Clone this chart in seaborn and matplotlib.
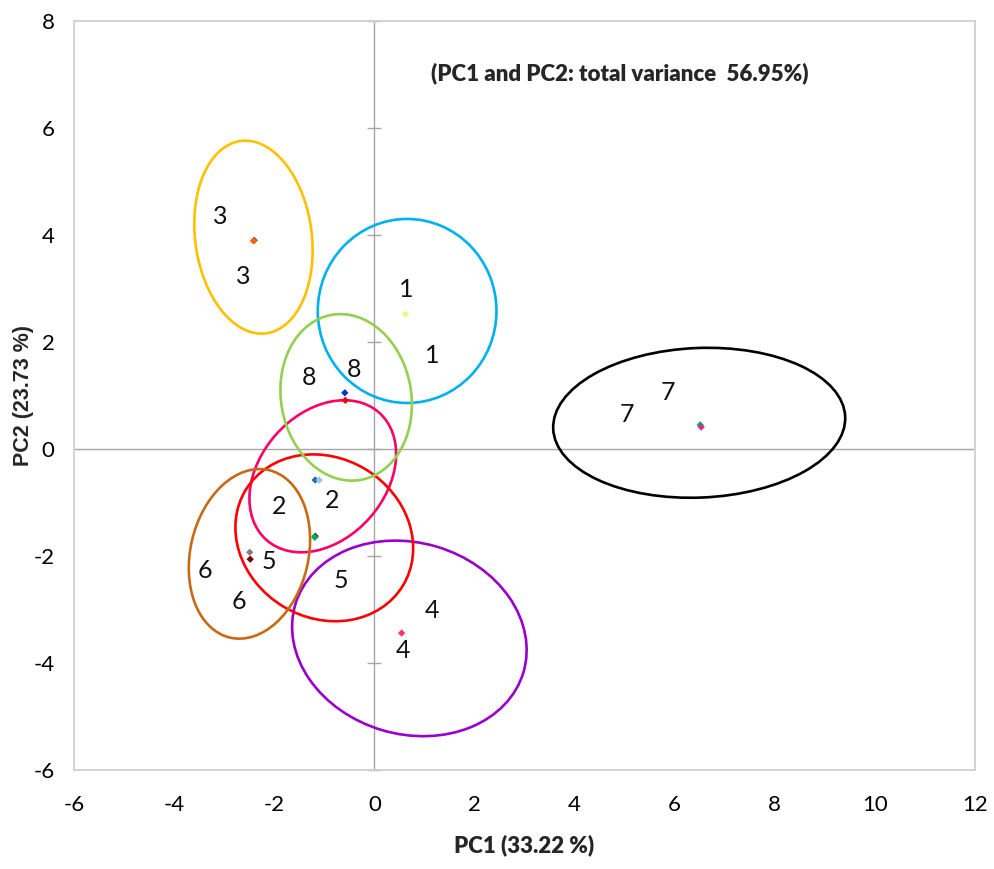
import numpy as np
import pandas as pd
import matplotlib
matplotlib.use("Agg")
import matplotlib.pyplot as plt
from matplotlib.patches import Ellipse
from matplotlib.transforms import Affine2D
import seaborn as sns

# ---- confidence ellipses of the eight groups (PC scores) ----
groups = ["1", "2", "3", "4", "5", "6", "7", "8"]
ellipse_colors = ["#00B0F0", "#FF0066", "#FFC000", "#9900CC",
                  "#FF0000", "#C86A14", "#000000", "#92D050"]
ell_cx = [0.655, -1.03, -2.415, 0.70, -1.00, -2.495, 6.49, -0.563]
ell_cy = [2.58, -0.51, 3.96, -3.54, -1.66, -1.96, 0.49, 0.965]
ell_major = [1.72, 1.589, 1.813, 2.224, 1.720, 1.607, 2.731, 1.566]
ell_minor = [1.67, 1.172, 1.090, 1.789, 1.495, 1.103, 1.398, 1.217]
ell_angle = [90, 48.5, 97.5, -16.5, -31.5, 77, 2.4, 100]

# ---- replicate sample labels ----
label_text = ["1", "1", "2", "2", "3", "3", "4", "4",
              "5", "5", "6", "6", "7", "7", "8", "8"]
label_x = [0.63, 1.15, -1.90, -0.85, -3.08, -2.61, 1.16, 0.57,
           -2.11, -0.66, -3.39, -2.71, 5.04, 5.87, -1.31, -0.41]
label_y = [2.99, 1.74, -1.07, -0.96, 4.34, 3.23, -3.02, -3.76,
           -2.10, -2.46, -2.27, -2.85, 0.64, 1.05, 1.33, 1.48]

# ---- group centroids ----
cent_id = ["1a", "2a", "2b", "3a", "3b", "4a", "5a", "5b",
           "6a", "6b", "7a", "7b", "8a", "8b"]
cent_x = [0.62, -1.18, -1.10, -2.40, -2.415, 0.545, -1.18, -1.19,
          -2.49, -2.48, 6.51, 6.53, -0.59, -0.58]
cent_y = [2.52, -0.58, -0.58, 3.90, 3.89, -3.44, -1.63, -1.65,
          -1.93, -2.06, 0.45, 0.41, 1.05, 0.91]
cent_color = ["#F5F08C", "#0070C0", "#9DC3E6", "#2F5597", "#FF6600",
              "#FF3366", "#1F3864", "#00B050", "#808080", "#7F0000",
              "#00B050", "#CC3399", "#0033CC", "#FF0000"]

xticks = [-6, -4, -2, 0, 2, 4, 6, 8, 10, 12]
yticks = [-6, -4, -2, 0, 2, 4, 6, 8]

sns.set_theme(style="white")
plt.rcParams["axes.unicode_minus"] = False
body = ["Lato", "DejaVu Sans"]
plt.rcParams["font.family"] = body

fig = plt.figure(figsize=(9.94, 8.69), dpi=100)
ax = fig.add_axes([74 / 994, 99 / 869, 901 / 994, 749 / 869])
ax.set_xlim(-6, 12)
ax.set_ylim(-6, 8)

# axis lines through the origin
ax.axhline(0, color="#A6A6A6", lw=1.0, zorder=1)
ax.axvline(0, color="#A6A6A6", lw=1.0, zorder=1)
ax.scatter(np.zeros(len(yticks)), yticks, marker="_", s=90,
           color="#A6A6A6", linewidths=1.0, zorder=1, clip_on=False)

# ellipses, shaped in screen proportions
fig.canvas.draw()
bb = ax.get_window_extent()
ratio = (bb.height / 14.0) / (bb.width / 18.0)
for g, c, cx, cy, a, b, ang in zip(groups, ellipse_colors, ell_cx, ell_cy,
                                   ell_major, ell_minor, ell_angle):
    e = Ellipse((0, 0), 2 * a, 2 * b, angle=ang, fill=False,
                edgecolor=c, lw=1.9, zorder=3,
                transform=Affine2D().scale(ratio, 1.0).translate(cx, cy) + ax.transData)
    ax.add_patch(e)

cent = pd.DataFrame({"id": cent_id, "PC1": cent_x, "PC2": cent_y})
sns.scatterplot(data=cent, x="PC1", y="PC2", hue="id",
                palette=dict(zip(cent_id, cent_color)), marker="D", s=14,
                linewidth=0, legend=False, ax=ax, zorder=4)

for t, x, y in zip(label_text, label_x, label_y):
    ax.text(x, y, t, ha="center", va="center", fontsize=18,
            family=body, color="#111111", zorder=5)

ax.text(4.90, 7.03, "(PC1 and PC2: total variance  56.95%)", ha="center",
        va="center", fontsize=16, fontweight="heavy", family=body)

ax.set_xticks(xticks)
ax.set_yticks(yticks)
ax.set_xticklabels([str(v) for v in xticks], fontsize=16, family=body)
ax.set_yticklabels([str(v) for v in yticks], fontsize=16, family=body)
ax.tick_params(axis="both", length=0, colors="#000000")
ax.tick_params(axis="x", pad=18)
ax.tick_params(axis="y", pad=14)

for s in ax.spines.values():
    s.set_color("#D0D0D0")
    s.set_linewidth(1.3)
    s.set_visible(True)

ax.set_xlabel("PC1 (33.22 %)", fontsize=16, fontweight="heavy", family=body)
ax.set_ylabel("PC2 (23.73 %)", fontsize=15.5, fontweight="bold",
              family=["Liberation Sans", "DejaVu Sans"])
ax.xaxis.set_label_coords((524 - 74) / 901, -(834 - 770) / 749)
ax.yaxis.set_label_coords(-(74 - 34) / 901, (770 - 395) / 749)
ax.grid(False)

fig.savefig("out.png", dpi=100)
